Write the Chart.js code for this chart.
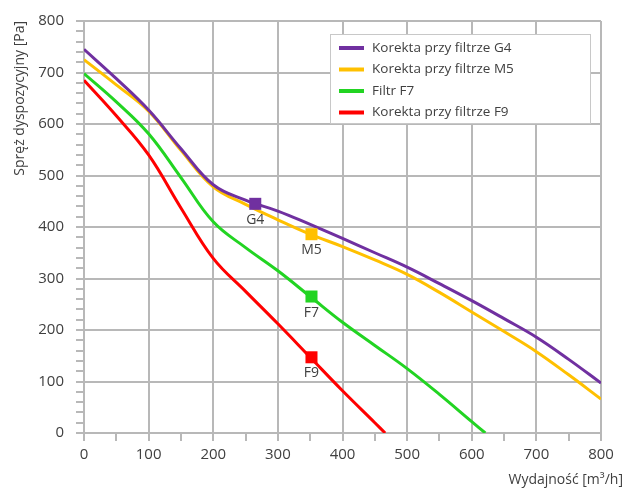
<!DOCTYPE html>
<html lang="pl">
  <head>
    <meta charset="UTF-8" />
    <title>Charakterystyka</title>
    <script src="https://cdn.jsdelivr.net/npm/chart.js"></script>
    <style>
      html,
      body {
        margin: 0;
        padding: 0;
        background: #fff;
      }
      .wrap {
        width: 629px;
        height: 492px;
      }
    </style>
  </head>
  <body>
    <div class="wrap"><canvas id="chart"></canvas></div>
    <script>
      // dane
      const g4X = [0, 50, 100, 150, 200, 250, 300, 350, 400, 450, 500, 550, 600, 650, 700, 750, 800];
      const g4Y = [745, 688, 627, 552, 482, 452, 431, 405, 378, 350, 322, 290, 257, 222, 186, 143, 97];

      const m5X = [0, 50, 100, 150, 200, 250, 300, 350, 400, 450, 500, 550, 600, 650, 700, 750, 800];
      const m5Y = [725, 676, 625, 549, 478, 444, 414, 386, 362, 336, 308, 273, 235, 197, 158, 113, 66];

      const f7X = [0, 50, 100, 150, 200, 250, 300, 350, 400, 450, 500, 550, 600, 621];
      const f7Y = [698, 643, 581, 496, 410, 360, 315, 265, 215, 170, 125, 75, 22, 0];

      const f9X = [0, 50, 100, 150, 200, 250, 300, 350, 400, 450, 466];
      const f9Y = [685, 616, 540, 437, 339, 275, 212, 147, 82, 20, 0];

      const markerNames = ["G4", "M5", "F7", "F9"];
      const markerX = [265, 352, 352, 352];
      const markerY = [445, 386, 265, 147];

      const seriesNames = [
        "Korekta przy filtrze G4",
        "Korekta przy filtrze M5",
        "Filtr F7",
        "Korekta przy filtrze F9",
      ];
      const colors = ["#7030a0", "#ffc000", "#22d422", "#ff0000"];

      const xTicks = [0, 100, 200, 300, 400, 500, 600, 700, 800];
      const yTicks = [0, 100, 200, 300, 400, 500, 600, 700, 800];

      const font = "'Open Sans', sans-serif";
      const gridColor = "#b8b8b8";
      const textColor = "#404040";

      function pts(xs, ys) {
        return xs.map((x, i) => ({ x: x, y: ys[i] }));
      }

      const curves = [
        pts(g4X, g4Y),
        pts(m5X, m5Y),
        pts(f7X, f7Y),
        pts(f9X, f9Y),
      ];

      const datasets = curves.map((d, i) => ({
        type: "line",
        label: seriesNames[i],
        data: d,
        borderColor: colors[i],
        borderWidth: 3,
        pointRadius: 0,
        tension: 0.4,
        fill: false,
        order: 2,
      }));

      markerNames.forEach((n, i) => {
        datasets.push({
          type: "scatter",
          label: n,
          data: [{ x: markerX[i], y: markerY[i] }],
          pointStyle: "rect",
          pointRadius: 8.5,
          pointBackgroundColor: colors[i],
          pointBorderWidth: 0,
          order: 1,
        });
      });

      // podpisy pod znacznikami, legenda w ramce, tytuł osi X
      const extras = {
        id: "extras",
        afterDatasetsDraw(chart) {
          const ctx = chart.ctx;
          ctx.save();
          ctx.fillStyle = textColor;
          ctx.font = "14px " + font;
          ctx.textAlign = "center";
          ctx.textBaseline = "top";
          markerNames.forEach((n, i) => {
            const el = chart.getDatasetMeta(4 + i).data[0];
            ctx.fillText(n, el.x, el.y + 9);
          });

          const bx = 330, by = 34, bw = 260, bh = 89;
          ctx.fillStyle = "#fff";
          ctx.fillRect(bx, by, bw, bh);
          ctx.strokeStyle = "#c8c8c8";
          ctx.lineWidth = 1;
          ctx.strokeRect(bx + 0.5, by + 0.5, bw, bh);
          ctx.font = "13.5px " + font;
          ctx.textAlign = "left";
          ctx.textBaseline = "middle";
          seriesNames.forEach((n, i) => {
            const y = by + 14 + i * 21.5;
            ctx.strokeStyle = colors[i];
            ctx.lineWidth = 4;
            ctx.beginPath();
            ctx.moveTo(bx + 9, y);
            ctx.lineTo(bx + 34, y);
            ctx.stroke();
            ctx.fillStyle = textColor;
            ctx.fillText(n, bx + 42, y);
          });

          ctx.font = "14px " + font;
          ctx.textAlign = "right";
          ctx.textBaseline = "alphabetic";
          ctx.fillText("Wydajność [m³/h]", 623, 484);
          ctx.restore();
        },
      };

      const ctxMain = document.getElementById("chart").getContext("2d");
      new Chart(ctxMain, {
        data: { datasets: datasets },
        options: {
          responsive: true,
          maintainAspectRatio: false,
          animation: false,
          layout: { padding: { top: 20, right: 28, left: 10, bottom: 0 } },
          plugins: {
            legend: { display: false },
            tooltip: { enabled: false },
          },
          scales: {
            x: {
              type: "linear",
              min: 0,
              max: 800,
              afterFit(s) {
                s.height = 59;
              },
              afterBuildTicks(s) {
                const t = [];
                for (let v = 0; v <= 800; v += 50) t.push({ value: v });
                s.ticks = t;
              },
              ticks: {
                autoSkip: false,
                maxRotation: 0,
                color: textColor,
                font: { family: font, size: 15 },
                padding: 5,
                callback: (v) => (xTicks.includes(v) ? String(v) : ""),
              },
              grid: {
                color: gridColor,
                lineWidth: (c) => (c.tick && c.tick.value % 100 === 0 ? 2 : 0),
                tickColor: gridColor,
                tickWidth: 2,
                tickLength: 8,
              },
              border: { color: gridColor, width: 2 },
            },
            y: {
              type: "linear",
              min: 0,
              max: 800,
              afterFit(s) {
                s.width = 74;
              },
              afterBuildTicks(s) {
                const t = [];
                for (let v = 0; v <= 800; v += 20) t.push({ value: v });
                s.ticks = t;
              },
              ticks: {
                autoSkip: false,
                color: textColor,
                font: { family: font, size: 15 },
                padding: 12,
                callback: (v) => (yTicks.includes(v) ? String(v) : ""),
              },
              grid: {
                color: gridColor,
                lineWidth: (c) => (c.tick && c.tick.value % 100 === 0 ? 2 : 0),
                tickColor: gridColor,
                tickWidth: 2,
                tickLength: 8,
              },
              border: { color: gridColor, width: 2 },
              title: {
                display: true,
                text: "Spręż dyspozycyjny [Pa]",
                align: "end",
                color: textColor,
                font: { family: font, size: 14 },
                padding: { top: 2, bottom: 2 },
              },
            },
          },
        },
        plugins: [extras],
      });
    </script>
  </body>
</html>
